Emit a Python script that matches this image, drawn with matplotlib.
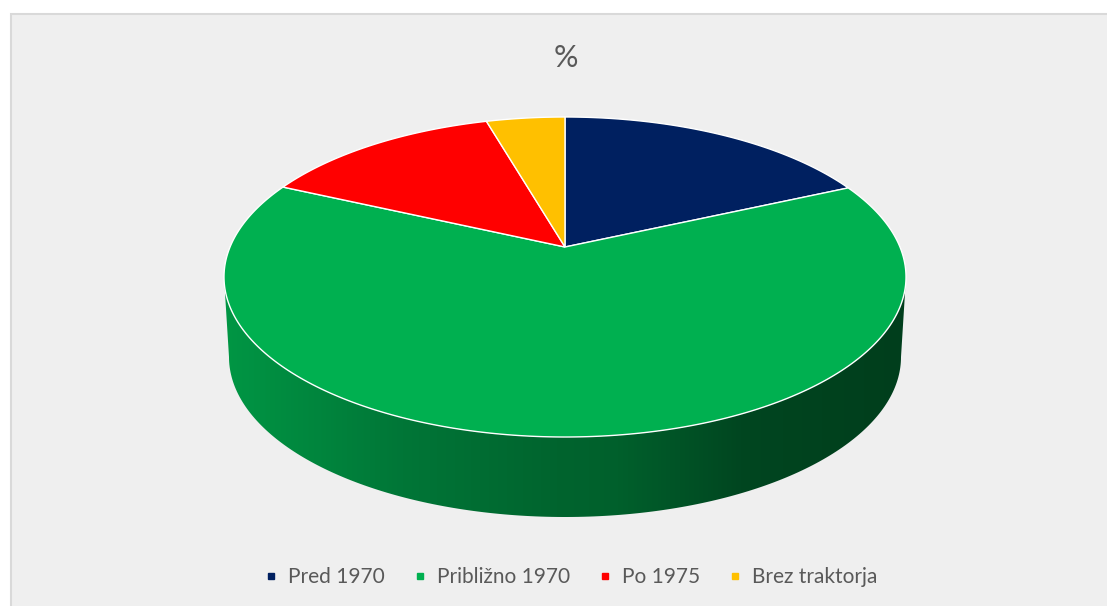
import numpy as np
import matplotlib
matplotlib.use("Agg")
import matplotlib.pyplot as plt
from matplotlib.patches import Polygon, Rectangle
from matplotlib.lines import Line2D
from matplotlib.colors import LinearSegmentedColormap

# data (percent)
labels = ["Pred 1970", "Približno 1970", "Po 1975", "Brez traktorja"]
values = [15.6, 68.9, 11.8, 3.7]
colors = ["#002060", "#00B050", "#FF0000", "#FFC000"]
title = "%"

W, H = 1107, 606
fig = plt.figure(figsize=(W / 100, H / 100), dpi=100)
fig.patch.set_facecolor("white")
ax = fig.add_axes([0, 0, 1, 1])
ax.set_xlim(0, W)
ax.set_ylim(H, 0)
ax.axis("off")

# chart panel
ax.add_patch(Rectangle((10.5, 13.5), W, H, facecolor="#efefef", edgecolor="#d9d9d9", lw=1.5, zorder=0))

# pie geometry (pixels)
cx, cy, a, b = 565, 277, 341, 160
apex = (565, 247)
depth = 80
bot_a = 336


def ell(t, ca=a, cyy=cy):
    return cx + ca * np.cos(t), cyy - b * np.sin(t)


# side band (only the big green slice is visible at the front)
t = np.linspace(np.pi, 2 * np.pi, 200)
tx, ty = ell(t)
bx, by = ell(t[::-1], bot_a, cy + depth)
side = Polygon(np.column_stack([np.r_[tx, bx], np.r_[ty, by]]), closed=True,
               facecolor="none", edgecolor="none", zorder=1)
ax.add_patch(side)
stops = [(0.0, (0 / 255, 150 / 255, 68 / 255)), (0.26, (0, 118 / 255, 55 / 255)),
         (0.49, (0, 100 / 255, 46 / 255)), (0.58, (0, 96 / 255, 44 / 255)),
         (0.76, (0, 70 / 255, 32 / 255)), (1.0, (0, 62 / 255, 28 / 255))]
cmap = LinearSegmentedColormap.from_list("side", stops)
grad = np.linspace(0, 1, 400).reshape(1, -1)
im = ax.imshow(grad, cmap=cmap, extent=(cx - a, cx + a, cy + depth + b, cy - 5),
               aspect="auto", zorder=1, interpolation="bilinear")
im.set_clip_path(side)

# top wedges, clockwise from 12 o'clock
start = np.pi / 2
total = sum(values)
for v, c in zip(values, colors):
    span = 2 * np.pi * v / total
    tt = np.linspace(start, start - span, max(int(v * 8), 10))
    px, py = ell(tt)
    pts = np.column_stack([np.r_[apex[0], px], np.r_[apex[1], py]])
    ax.add_patch(Polygon(pts, closed=True, facecolor=c, edgecolor="white", lw=1, zorder=2))
    start -= span

ax.text(566, 58, title, ha="center", va="center", fontsize=22, color="#595959", family="Lato")

handles = [Line2D([], [], marker="s", ls="none", color=c, markersize=5) for c in colors]
leg = ax.legend(handles, labels, loc="center", bbox_to_anchor=(569, 577), bbox_transform=ax.transData,
                ncol=4, frameon=False, handletextpad=0.3, columnspacing=1.2, handlelength=1.0,
                prop={"family": "Lato", "size": 15})
for txt in leg.get_texts():
    txt.set_color("#595959")

fig.savefig("out.png", dpi=100, facecolor="white")
